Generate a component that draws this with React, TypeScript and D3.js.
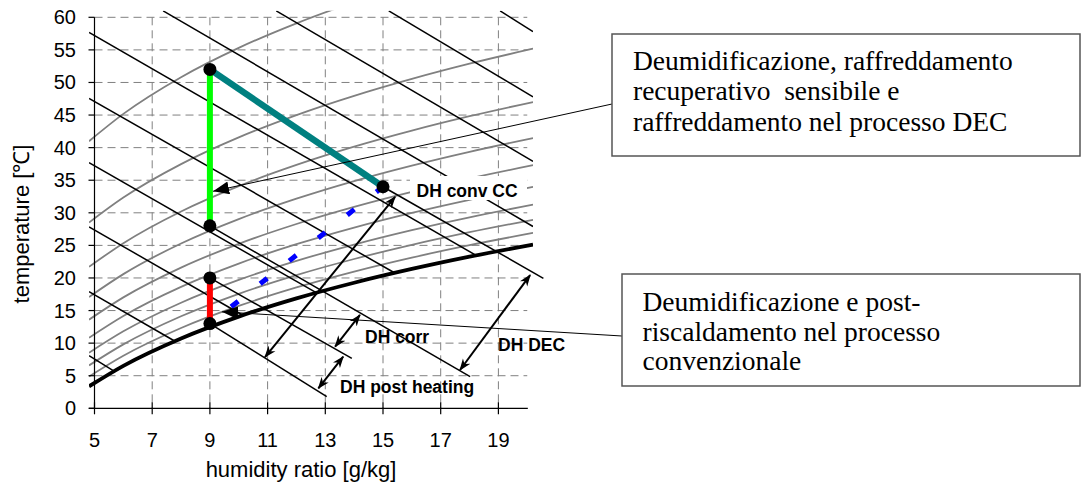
import React from 'react';
import * as d3 from 'd3';

// ---- axes ----
const xTicks = [5, 7, 9, 11, 13, 15, 17, 19];
const yTicks = [0, 5, 10, 15, 20, 25, 30, 35, 40, 45, 50, 55, 60];

// ---- psychrometric curves (humidity ratio g/kg -> temperature °C) ----
const humidityGrid = [4.81, 6, 8, 10, 12, 14, 16, 18, 20.2];
const saturation = [3.37, 6.52, 10.72, 14.07, 16.87, 19.27, 21.38, 23.27, 25.13];
const rh90 = [4.87, 8.06, 12.32, 15.71, 18.54, 20.98, 23.12, 25.03, 26.92];
const rh80 = [6.58, 9.81, 14.12, 17.57, 20.44, 22.91, 25.08, 27.02, 28.93];
const rh70 = [8.53, 11.81, 16.2, 19.7, 22.62, 25.13, 27.34, 29.31, 31.26];
const rh60 = [10.83, 14.17, 18.64, 22.21, 25.18, 27.74, 29.99, 32.0, 33.99];
const rh50 = [13.6, 17.02, 21.59, 25.24, 28.28, 30.9, 33.2, 35.26, 37.3];
const rh40 = [17.08, 20.59, 25.29, 29.04, 32.17, 34.87, 37.24, 39.36, 41.45];
const rh30 = [21.71, 25.34, 30.21, 34.1, 37.35, 40.15, 42.61, 44.82, 47.0];
const rh20 = [28.51, 32.34, 37.47, 41.57, 45.0, 47.95, 50.55, 52.88, 55.18];
const rh10 = [40.99, 45.18, 50.81, 55.31, 59.08, 62.33, 65.2, 67.76, 70.3];
const rhSeries = [rh90, rh80, rh70, rh60, rh50, rh40, rh30, rh20, rh10];

// enthalpy lines h = 20 ... 110 kJ/kg : start / end [w, T]
const enthalpyValues = [20, 30, 40, 50, 60, 70, 80, 90, 100, 110];
const enthalpyStart = [
  [4.81, 8.1], [4.81, 17.9], [4.81, 27.85], [4.81, 37.7], [4.81, 47.57],
  [4.81, 57.7], [7.38, 61], [11.3, 61], [15.2, 61], [19.06, 61],
];
const enthalpyEnd = [
  [5.69, 5.68], [7.79, 10.29], [10.14, 14.28], [12.7, 17.71], [15.41, 20.76],
  [18.23, 23.46], [20.2, 27.9], [20.2, 37.9], [20.2, 47.8], [20.2, 57.8],
];

// ---- process states ----
const greenPath = [[9, 28], [9, 52]];
const tealPath = [[9, 52], [15, 34]];
const redPath = [[9, 13], [9, 20]];
const bluePath = [[9, 13], [15, 34]];
const statePoints = [[9, 52], [9, 28], [9, 20], [9, 13], [15, 34]];

// lines parallel to the enthalpy lines from the states
const guideLines = [
  [[9, 13], [13.05, 1.78]],
  [[9, 20], [13.92, 7.67]],
  [[9, 28], [18.02, 4.85]],
  [[15, 34], [20.56, 19.95]],
];

// double arrows
const dhArrows = [
  [[10.91, 7.87], [15.42, 32.44]], // DH conv CC
  [[13.34, 9.45], [14.2, 14.32]], // DH corr
  [[12.76, 3.07], [13.62, 7.92]], // DH post heating
  [[17.67, 5.88], [20.1, 20.45]], // DH DEC
];
const dhLabels = ['DH conv CC', 'DH corr', 'DH post heating', 'DH DEC'];

// callouts
const calloutTips = [[9.11, 33.3], [9.42, 14.8]];
const box1Lines = ['Deumidificazione, raffreddamento', 'recuperativo  sensibile e', 'raffreddamento nel processo DEC'];
const box2Lines = ['Deumidificazione e post-', 'riscaldamento nel processo', 'convenzionale'];

const SANS = '"Liberation Sans", Arial, sans-serif';
const SERIF = '"Liberation Serif", "Times New Roman", serif';

export default function App() {
  const x = d3.scaleLinear().domain([5, 20]).range([94.5, 527.25]);
  const y = d3.scaleLinear().domain([0, 60]).range([408.3, 17.3]);
  const line = d3.line<number[]>().x(d => x(d[0])).y(d => y(d[1]));
  const smooth = d3.line<number[]>().x(d => x(d[0])).y(d => y(d[1])).curve(d3.curveMonotoneX);
  const toPts = (ts: number[]) => humidityGrid.map((w, i) => [w, ts[i]]);

  const clipX0 = x(4.81), clipX1 = x(20.2), clipY0 = y(61), clipY1 = y(-2);

  const labelPos = [
    { x: 416.5, y: 196.5, bg: true },
    { x: 365, y: 343.3, bg: false },
    { x: 340, y: 393.3, bg: false },
    { x: 498, y: 351, bg: false },
  ];

  const box1 = { x: 612, y: 34, w: 468, h: 122, tx: 633, base: [69.5, 100, 130.5] };
  const box2 = { x: 622, y: 274, w: 458, h: 112, tx: 642.5, base: [311, 340.5, 370] };
  const calloutEnds = [[box1.x, 104], [box2.x, 336]];

  return (
    <svg width={1082} height={484} style={{ display: 'block', background: '#fff' }}>
      <style>{`body{margin:0}`}</style>
      <defs>
        <clipPath id="plot">
          <rect x={clipX0} y={clipY0} width={clipX1 - clipX0} height={clipY1 - clipY0} />
        </clipPath>
        <marker id="dh" viewBox="0 0 12 10" refX="11" refY="5" markerWidth="12" markerHeight="10"
          markerUnits="userSpaceOnUse" orient="auto-start-reverse">
          <path d="M0,0.5 L12,5 L0,9.5 L3.5,5 Z" fill="#000" />
        </marker>
        <marker id="call" viewBox="0 0 16 13" refX="16" refY="6.5" markerWidth="16" markerHeight="13"
          markerUnits="userSpaceOnUse" orient="auto-start-reverse">
          <path d="M0,0 L16,6.5 L0,13 Z" fill="#000" />
        </marker>
      </defs>

      {/* grid */}
      <g stroke="#808080" strokeWidth={1} strokeDasharray="8 5">
        {yTicks.filter(t => t > 0).map(t => (
          <line key={'gy' + t} x1={x(5)} x2={x(20)} y1={y(t)} y2={y(t)} />
        ))}
        {xTicks.filter(t => t > 5).map(t => (
          <line key={'gx' + t} x1={x(t)} x2={x(t)} y1={y(60)} y2={y(0)} />
        ))}
      </g>

      {/* psychrometric lines */}
      <g clipPath="url(#plot)" fill="none">
        {rhSeries.map((s, i) => (
          <path key={'rh' + i} d={smooth(toPts(s)) || ''} stroke="#808080" strokeWidth={1.8} />
        ))}
        {enthalpyValues.map((h, i) => (
          <path key={'h' + h} d={line([enthalpyStart[i], enthalpyEnd[i]]) || ''} stroke="#000" strokeWidth={1.5} />
        ))}
        <path d={smooth(toPts(saturation)) || ''} stroke="#000" strokeWidth={3.8} />
      </g>

      {/* axes */}
      <g stroke="#000" strokeWidth={1.2}>
        <line x1={x(5)} x2={x(5)} y1={y(60)} y2={y(0)} />
        <line x1={89} x2={x(20.02)} y1={y(0)} y2={y(0)} />
        {yTicks.map(t => (
          <line key={'ty' + t} x1={x(5) - 6} x2={x(5)} y1={y(t)} y2={y(t)} />
        ))}
        {xTicks.map(t => (
          <line key={'tx' + t} x1={x(t)} x2={x(t)} y1={y(0) - 6} y2={y(0) + 6} />
        ))}
      </g>
      <g fontFamily={SANS} fontSize={20} fill="#000">
        {yTicks.map(t => (
          <text key={'ly' + t} x={76} y={y(t) + 7} textAnchor="end">{t}</text>
        ))}
        {xTicks.map(t => (
          <text key={'lx' + t} x={x(t)} y={447} textAnchor="middle">{t}</text>
        ))}
      </g>
      <text fontFamily={SANS} fontSize={22} x={301} y={477} textAnchor="middle">humidity ratio [g/kg]</text>
      <text fontFamily={SANS} fontSize={22} textAnchor="middle" transform="translate(29,224) rotate(-90)">temperature [℃]</text>

      {/* guide lines */}
      <g stroke="#000" strokeWidth={1.5} fill="none">
        {guideLines.map((g, i) => (
          <path key={'g' + i} d={line(g) || ''} />
        ))}
      </g>

      {/* blue dashed path */}
      <path d={line(bluePath) || ''} stroke="#0000FF" strokeWidth={5} strokeDasharray="9 28" strokeDashoffset={9.9} fill="none" />

      {/* process lines */}
      <path d={line(greenPath) || ''} stroke="#00FF00" strokeWidth={6} fill="none" />
      <path d={line(redPath) || ''} stroke="#FF0000" strokeWidth={6} fill="none" />
      <path d={line(tealPath) || ''} stroke="#008080" strokeWidth={6.5} fill="none" />
      {statePoints.map((p, i) => (
        <circle key={'p' + i} cx={x(p[0])} cy={y(p[1])} r={6.5} fill="#000" />
      ))}

      {/* DH arrows */}
      <g stroke="#000" strokeWidth={2} fill="none">
        {dhArrows.map((a, i) => (
          <path key={'a' + i} d={line(a) || ''} markerStart="url(#dh)" markerEnd="url(#dh)" />
        ))}
      </g>
      {dhLabels.map((t, i) => (
        <g key={'l' + i}>
          {labelPos[i].bg && <rect x={410} y={176} width={117} height={24} fill="#fff" />}
          <text x={labelPos[i].x} y={labelPos[i].y} fontFamily={SANS} fontWeight="bold" fontSize={17.5}>{t}</text>
        </g>
      ))}

      {/* callouts */}
      {calloutTips.map((p, i) => (
        <line key={'c' + i} x1={x(p[0])} y1={y(p[1])} x2={calloutEnds[i][0]} y2={calloutEnds[i][1]}
          stroke="#000" strokeWidth={1} markerStart="url(#call)" />
      ))}
      {[{ b: box1, lines: box1Lines }, { b: box2, lines: box2Lines }].map(({ b, lines }, i) => (
        <g key={'box' + i}>
          <rect x={b.x} y={b.y} width={b.w} height={b.h} fill="#fff" stroke="#555" strokeWidth={1.5} />
          {lines.map((t, j) => (
            <text key={j} x={b.tx} y={b.base[j]} fontFamily={SERIF} fontSize={27.5} fill="#000" style={{ whiteSpace: 'pre' }}>{t}</text>
          ))}
        </g>
      ))}
    </svg>
  );
}
